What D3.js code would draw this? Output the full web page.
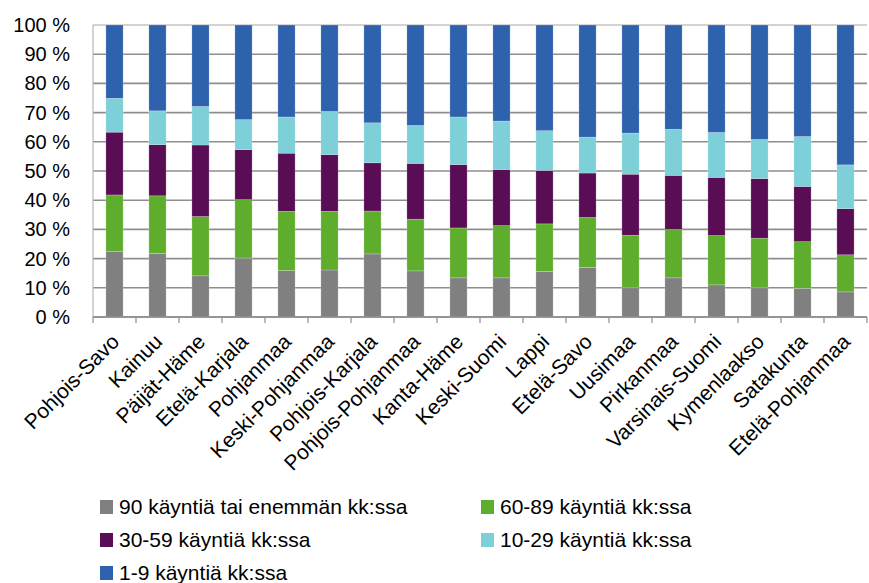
<!DOCTYPE html>
<html>
<head>
<meta charset="utf-8">
<script src="https://cdn.jsdelivr.net/npm/d3@7"></script>
<style>
  body { margin: 0; background: #fff; }
  svg { display: block; font-family: "Liberation Sans", Arial, sans-serif; }
</style>
</head>
<body>
<div id="chart"></div>
<script>
const regions = ["Pohjois-Savo", "Kainuu", "Päijät-Häme", "Etelä-Karjala", "Pohjanmaa",
  "Keski-Pohjanmaa", "Pohjois-Karjala", "Pohjois-Pohjanmaa", "Kanta-Häme", "Keski-Suomi",
  "Lappi", "Etelä-Savo", "Uusimaa", "Pirkanmaa", "Varsinais-Suomi", "Kymenlaakso",
  "Satakunta", "Etelä-Pohjanmaa"];

const seriesNames = ["90 käyntiä tai enemmän kk:ssa", "60-89 käyntiä kk:ssa",
  "30-59 käyntiä kk:ssa", "10-29 käyntiä kk:ssa", "1-9 käyntiä kk:ssa"];

const v90 = [22.4, 21.8, 14.1, 20.2, 15.9, 16.1, 21.6, 15.8, 13.4, 13.4, 15.6, 17.0, 10.0, 13.4, 11.0, 10.0, 9.8, 8.6];
const v60 = [19.4, 19.7, 20.3, 20.0, 20.3, 20.1, 14.7, 17.7, 17.1, 17.9, 16.3, 17.1, 18.0, 16.6, 16.9, 17.0, 16.0, 12.7];
const v30 = [21.5, 17.5, 24.5, 17.1, 19.9, 19.4, 16.5, 19.1, 21.7, 19.2, 18.3, 15.2, 20.9, 18.5, 19.9, 20.4, 18.9, 15.8];
const v10 = [11.6, 11.6, 13.2, 10.3, 12.4, 14.8, 13.7, 13.0, 16.3, 16.6, 13.6, 12.3, 14.1, 15.8, 15.4, 13.4, 17.1, 15.0];
const v1  = [25.1, 29.4, 27.9, 32.4, 31.5, 29.6, 33.5, 34.4, 31.5, 32.9, 36.2, 38.4, 37.0, 35.7, 36.8, 39.2, 38.2, 47.9];

const yTicks = [0, 10, 20, 30, 40, 50, 60, 70, 80, 90, 100];

const colors = ["#808080", "#5fad2d", "#590d55", "#7dd0d8", "#2e62ad"];

const width = 869, height = 583;
const margin = { left: 93, right: 2, top: 25, bottom: 266 };

const svg = d3.select("#chart").append("svg")
  .attr("width", width).attr("height", height);

const keys = ["s0", "s1", "s2", "s3", "s4"];
const table = regions.map((r, i) => ({
  region: r, s0: v90[i], s1: v60[i], s2: v30[i], s3: v10[i], s4: v1[i]
}));
const stacked = d3.stack().keys(keys)(table);

const x = d3.scaleBand()
  .domain(regions)
  .range([margin.left, width - margin.right])
  .paddingInner(0.6)
  .paddingOuter(0.3);

const y = d3.scaleLinear()
  .domain([0, 100])
  .range([height - margin.bottom, margin.top]);

// gridlines
svg.append("g")
  .selectAll("line")
  .data(yTicks)
  .enter()
  .append("line")
  .attr("x1", margin.left)
  .attr("x2", width - margin.right)
  .attr("y1", (d) => y(d))
  .attr("y2", (d) => y(d))
  .attr("stroke", (d) => (d === 100 ? "#c4c4c4" : "#8e8e8e"))
  .attr("stroke-width", 1.6);

// y axis line
svg.append("line")
  .attr("x1", margin.left).attr("x2", margin.left)
  .attr("y1", y(100)).attr("y2", y(0))
  .attr("stroke", "#b8b8b8").attr("stroke-width", 1.2);

// y labels
svg.append("g")
  .selectAll("text")
  .data(yTicks)
  .enter()
  .append("text")
  .attr("x", 70)
  .attr("y", (d) => y(d))
  .attr("dy", "0.35em")
  .attr("text-anchor", "end")
  .attr("font-size", 20)
  .attr("fill", "#000")
  .text((d) => d + " %");

// bars
svg.append("g")
  .selectAll("g")
  .data(stacked)
  .enter()
  .append("g")
  .attr("fill", (d, i) => colors[i])
  .selectAll("rect")
  .data((d) => d)
  .enter()
  .append("rect")
  .attr("x", (d) => x(d.data.region))
  .attr("width", x.bandwidth())
  .attr("y", (d) => y(d[1]))
  .attr("height", (d) => y(d[0]) - y(d[1]))
  .attr("stroke", "rgba(255,255,255,0.35)")
  .attr("stroke-width", 0.6);

// x axis line and ticks
const step = x.step();
svg.append("line")
  .attr("x1", margin.left).attr("x2", width - margin.right)
  .attr("y1", y(0)).attr("y2", y(0))
  .attr("stroke", "#8e8e8e").attr("stroke-width", 1.6);

svg.append("g")
  .selectAll("line")
  .data(d3.range(regions.length + 1))
  .enter()
  .append("line")
  .attr("x1", (i) => margin.left + i * step)
  .attr("x2", (i) => margin.left + i * step)
  .attr("y1", y(0))
  .attr("y2", y(0) + 6)
  .attr("stroke", "#8e8e8e").attr("stroke-width", 1.2);

// category labels
svg.append("g")
  .selectAll("text")
  .data(regions)
  .enter()
  .append("text")
  .attr("transform", (d) => `translate(${x(d) + x.bandwidth() / 2 + 6}, 343) rotate(-45)`)
  .attr("text-anchor", "end")
  .attr("font-size", 21)
  .attr("fill", "#000")
  .text((d) => d);

// legend
const legendPos = [
  [100, 507], [481, 507], [100, 540], [481, 540], [100, 573]
];
const legend = svg.append("g")
  .selectAll("g")
  .data(seriesNames)
  .enter()
  .append("g")
  .attr("transform", (d, i) => `translate(${legendPos[i][0]}, ${legendPos[i][1]})`);

legend.append("rect")
  .attr("x", 0).attr("y", -7)
  .attr("width", 13).attr("height", 14)
  .attr("fill", (d, i) => colors[i]);

legend.append("text")
  .attr("x", 19)
  .attr("dy", "0.35em")
  .attr("font-size", 21)
  .attr("fill", "#000")
  .text((d) => d);
</script>
</body>
</html>
